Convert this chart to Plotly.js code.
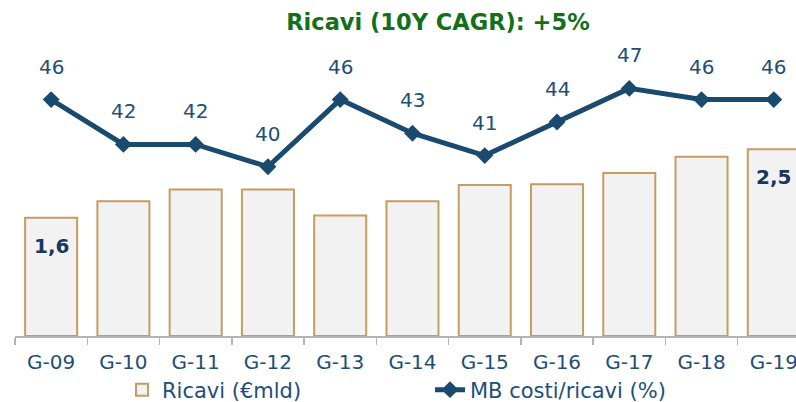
<!DOCTYPE html>
<html>
<head>
<meta charset="utf-8">
<script src="https://cdn.plot.ly/plotly-3.0.1.min.js"></script>
<style>html,body{margin:0;padding:0;background:#fff;overflow:hidden}#chart{width:796px;height:402px}</style>
</head>
<body>
<div id="chart"></div>
<script>
const categories = ['G-09','G-10','G-11','G-12','G-13','G-14','G-15','G-16','G-17','G-18','G-19'];
const ricavi = [1.59, 1.81, 1.97, 1.97, 1.62, 1.81, 2.03, 2.04, 2.19, 2.41, 2.51];
const mbCostiRicavi = [46, 42, 42, 40, 46, 43, 41, 44, 47, 46, 46];
const barLabelIdx = [0, 10];
const titleText = 'Ricavi (10Y CAGR): +5%';

const FONT = 'DejaVu Sans, sans-serif';
const BLUE = '#1a4a6e';
const TXT = '#1f4e79';

const traces = [
  {
    type: 'bar', name: 'Ricavi (€mld)', x: categories, y: ricavi,
    marker: {color: '#f2f2f2', line: {color: '#c69c60', width: 2}},
    hoverinfo: 'skip', legend: 'legend'
  },
  {
    type: 'scatter', mode: 'lines+markers', name: 'MB costi/ricavi (%)',
    x: categories, y: mbCostiRicavi, yaxis: 'y2',
    line: {color: BLUE, width: 5},
    marker: {symbol: 'diamond', size: 13, color: BLUE},
    hoverinfo: 'skip', legend: 'legend2'
  }
];

const annotations = [];
mbCostiRicavi.forEach((v, i) => annotations.push({
  x: categories[i], y: v, xref: 'x', yref: 'y2', text: String(v),
  showarrow: false, yshift: 33, font: {family: FONT, size: 20, color: TXT}
}));
barLabelIdx.forEach(i => annotations.push({
  x: categories[i], y: ricavi[i], xref: 'x', yref: 'y',
  text: '<b>' + ricavi[i].toFixed(1).replace('.', ',') + '</b>',
  showarrow: false, yshift: -28, font: {family: FONT, size: 20, color: '#17375e'}
}));

const layout = {
  width: 796, height: 402,
  margin: {l: 15, r: 0, t: 40, b: 66, autoexpand: false},
  paper_bgcolor: '#fff', plot_bgcolor: '#fff',
  font: {family: FONT, color: TXT},
  title: {text: '<b>' + titleText + '</b>', x: 438/796, xref: 'container', xanchor: 'center',
          y: 1 - 22/402, yref: 'container', yanchor: 'middle',
          font: {family: FONT, size: 22.5, color: '#13701a'}},
  bargap: 0.28,
  showlegend: true,
  xaxis: {
    type: 'category', range: [-0.5, 10.307], fixedrange: true, automargin: false,
    showline: true, linecolor: '#b4b4b4', linewidth: 1.5,
    ticks: 'outside', tickson: 'boundaries', ticklen: 7, tickwidth: 1.5, tickcolor: '#b4b4b4',
    ticklabelstandoff: 7,
    tickfont: {family: FONT, size: 20, color: TXT},
    showgrid: false, zeroline: false
  },
  yaxis: {range: [0, 3.978], visible: false, showgrid: false, zeroline: false, fixedrange: true},
  yaxis2: {range: [24.89, 51.32], overlaying: 'y', side: 'right', visible: false, showgrid: false, zeroline: false, fixedrange: true},
  legend: {orientation: 'h', xref: 'container', yref: 'container', x: 122/796, xanchor: 'left', y: 1 - 390/402, yanchor: 'middle',
           font: {family: FONT, size: 21, color: TXT}, bgcolor: 'rgba(0,0,0,0)'},
  legend2: {orientation: 'h', xref: 'container', yref: 'container', x: 430/796, xanchor: 'left', y: 1 - 390/402, yanchor: 'middle',
           font: {family: FONT, size: 21, color: TXT}, bgcolor: 'rgba(0,0,0,0)'},
  annotations: annotations
};

Plotly.newPlot('chart', traces, layout, {staticPlot: true, displayModeBar: false});
</script>
</body>
</html>
